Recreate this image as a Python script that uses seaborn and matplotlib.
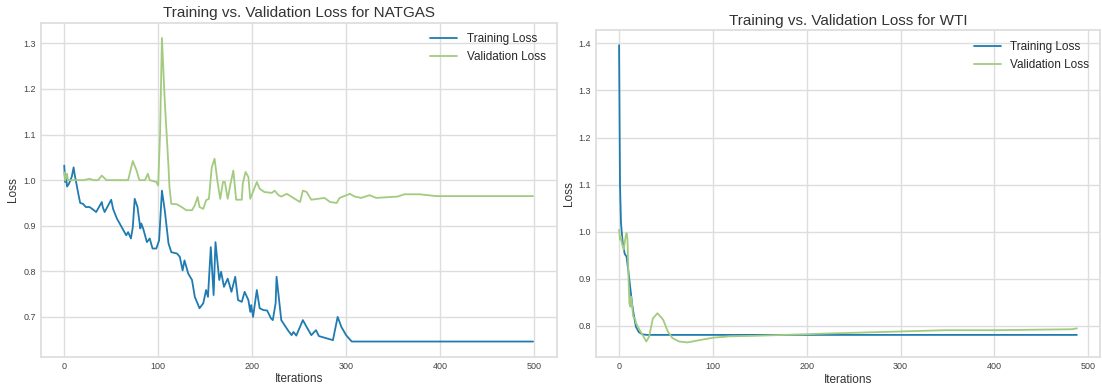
import pandas as pd
import seaborn as sns
import matplotlib.pyplot as plt

# NATGAS - values (iteration, loss)
natgas_train_iter = [0, 1, 2, 3, 5, 8, 10, 11, 13, 15, 17, 20, 23, 27, 31, 34, 40, 41, 43, 50,
                     52, 56, 59, 63, 66, 68, 71, 73, 75, 78, 81, 82, 84, 88, 91, 94, 98, 101, 104, 107,
                     111, 114, 120, 123, 126, 128, 132, 136, 139, 144, 148, 151, 153, 156, 159, 161, 165, 167, 170, 174,
                     178, 182, 185, 189, 192, 196, 198, 199, 201, 205, 208, 212, 216, 220, 222, 225, 226, 231, 238, 242,
                     244, 247, 254, 258, 263, 268, 271, 286, 291, 295, 300, 306, 499]
natgas_train_loss = [1.032, 0.996, 1.007, 0.986, 0.992, 1.007, 1.028, 1.014, 0.992, 0.970, 0.950, 0.948, 0.941, 0.941, 0.935, 0.930, 0.952, 0.941, 0.930, 0.957,
                     0.937, 0.916, 0.905, 0.890, 0.879, 0.886, 0.872, 0.897, 0.959, 0.941, 0.894, 0.905, 0.894, 0.864, 0.872, 0.850, 0.850, 0.868, 0.977, 0.934,
                     0.861, 0.842, 0.839, 0.832, 0.802, 0.824, 0.795, 0.781, 0.744, 0.719, 0.730, 0.759, 0.744, 0.853, 0.748, 0.864, 0.781, 0.799, 0.766, 0.784,
                     0.755, 0.788, 0.737, 0.733, 0.755, 0.737, 0.711, 0.726, 0.700, 0.759, 0.719, 0.715, 0.714, 0.697, 0.693, 0.730, 0.788, 0.693, 0.671, 0.660,
                     0.667, 0.659, 0.693, 0.678, 0.660, 0.671, 0.658, 0.649, 0.700, 0.678, 0.660, 0.646, 0.646]

natgas_val_iter = [0, 1, 3, 4, 21, 27, 31, 36, 40, 45, 68, 73, 77, 80, 86, 89, 91, 98, 100, 102,
                   104, 107, 111, 112, 114, 120, 125, 130, 136, 139, 142, 144, 148, 151, 154, 157, 160, 163, 166, 169,
                   171, 174, 177, 180, 183, 189, 190, 193, 196, 198, 205, 208, 213, 221, 224, 228, 231, 237, 243, 251,
                   254, 258, 263, 277, 283, 290, 293, 304, 309, 316, 325, 332, 355, 362, 378, 396, 499]
natgas_val_loss = [1.017, 0.999, 1.014, 1.0, 1.0, 1.003, 1.0, 1.0, 1.010, 1.0, 1.0, 1.042, 1.021, 1.0, 1.0, 1.014, 1.0, 0.996, 0.988, 1.101,
                   1.312, 1.174, 1.028, 0.985, 0.948, 0.947, 0.941, 0.934, 0.934, 0.945, 0.963, 0.941, 0.937, 0.956, 0.959, 1.028, 1.047, 0.999, 0.959, 0.996,
                   0.996, 0.959, 0.992, 1.021, 0.957, 0.957, 0.992, 1.018, 1.007, 0.959, 0.996, 0.981, 0.974, 0.972, 0.977, 0.967, 0.964, 0.970, 0.962, 0.952,
                   0.977, 0.974, 0.957, 0.961, 0.952, 0.950, 0.961, 0.970, 0.964, 0.961, 0.967, 0.961, 0.964, 0.969, 0.969, 0.965, 0.965]

# WTI
wti_train_iter = [0, 1, 2, 3, 4, 6, 8, 10, 12, 14, 16, 18, 21, 25, 30, 488]
wti_train_loss = [1.396, 1.10, 1.02, 0.995, 0.975, 0.953, 0.947, 0.915, 0.880, 0.845, 0.820, 0.798, 0.787, 0.782, 0.781, 0.781]

wti_val_iter = [0, 1, 2, 3, 5, 7, 8, 9, 10, 11, 12, 13, 15, 17, 18, 22, 25, 29, 32, 36,
                41, 47, 52, 57, 64, 73, 86, 100, 118, 144, 224, 295, 348, 401, 483, 488]
wti_val_loss = [1.004, 0.983, 0.990, 0.975, 0.962, 0.990, 0.997, 0.983, 0.905, 0.848, 0.841, 0.862, 0.820, 0.816, 0.806, 0.791, 0.781, 0.767, 0.777, 0.816,
                0.827, 0.813, 0.788, 0.774, 0.767, 0.765, 0.770, 0.775, 0.778, 0.779, 0.784, 0.788, 0.791, 0.791, 0.793, 0.795]

train_color = '#1f7bb0'
val_color = '#a3cb80'

sns.set_theme(style='whitegrid')
plt.rcParams['font.family'] = ['Liberation Sans', 'DejaVu Sans']
plt.rcParams['axes.edgecolor'] = '#dddddd'
plt.rcParams['grid.color'] = '#dddddd'

fig = plt.figure(figsize=(11.02, 3.89), dpi=100)
ax1 = fig.add_axes([0.037, 0.083, 0.468, 0.8586])
ax2 = fig.add_axes([0.541, 0.0815, 0.457, 0.8405])


def plot_losses(ax, tr_x, tr_y, va_x, va_y, name):
    tr = pd.DataFrame({'Iterations': tr_x, 'Loss': tr_y})
    va = pd.DataFrame({'Iterations': va_x, 'Loss': va_y})
    sns.lineplot(data=tr, x='Iterations', y='Loss', ax=ax, color=train_color, linewidth=1.3, label='Training Loss')
    sns.lineplot(data=va, x='Iterations', y='Loss', ax=ax, color=val_color, linewidth=1.3, label='Validation Loss')
    ax.set_title(f'Training vs. Validation Loss for {name}', fontsize=11, color='#333333', pad=4)
    ax.set_xlabel('Iterations', fontsize=8.5, color='#333333', labelpad=2)
    ax.set_ylabel('Loss', fontsize=8.5, color='#333333', labelpad=3)
    ax.tick_params(labelsize=6.5, colors='#444444', length=0, pad=3.5)
    ax.set_xticks([0, 100, 200, 300, 400, 500])
    ax.legend(loc='upper right', frameon=False, fontsize=8.5, handlelength=2.3)


plot_losses(ax1, natgas_train_iter, natgas_train_loss, natgas_val_iter, natgas_val_loss, 'NATGAS')
plot_losses(ax2, wti_train_iter, wti_train_loss, wti_val_iter, wti_val_loss, 'WTI')
ax1.set_yticks([0.7, 0.8, 0.9, 1.0, 1.1, 1.2, 1.3])
ax2.set_yticks([0.8, 0.9, 1.0, 1.1, 1.2, 1.3, 1.4])

fig.savefig('out.png', dpi=100)
